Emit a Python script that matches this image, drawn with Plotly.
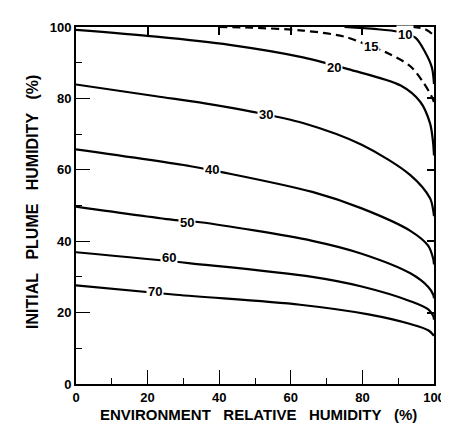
import plotly.graph_objects as go

# ---- data ----
labels = ["10", "15", "20", "30", "40", "50", "60", "70"]

x10 = [75, 84, 90, 91.5, 94.8, 97.5, 99.4, 100]
y10 = [100, 99.4, 98.7, 98.2, 97, 93, 88.7, 84]

x15 = [40, 49, 63.4, 75, 82.5, 87, 93.4, 97, 99.2, 100]
y15 = [100, 99.8, 99, 97.3, 94.5, 92.7, 89, 84.5, 80.8, 79]

x20 = [0, 22.4, 42.9, 63.4, 76, 90.7, 96.2, 98.9, 99.7, 100]
y20 = [99.2, 97.3, 95, 91.5, 88.2, 83.6, 79, 73, 68, 64]

x30 = [0, 22.4, 36, 49, 63.4, 79.8, 93.4, 98.9, 99.8, 100]
y30 = [83.9, 80.6, 78.6, 76.3, 73.1, 67, 58.5, 52, 48.5, 47]

x40 = [0, 32, 41, 66, 79.8, 93.4, 98.4, 99.8, 100]
y40 = [65.7, 61, 59.3, 53.8, 49.2, 42.9, 38.7, 35, 33.5]

x50 = [0, 27.9, 34.7, 66, 79.8, 93.4, 98.4, 99.8, 100]
y50 = [49.7, 45.9, 45.3, 40.1, 36.5, 31, 27.2, 25, 24]

x60 = [0, 32, 66, 79.8, 93.4, 98.4, 99.8, 100]
y60 = [36.9, 33.8, 30, 27.3, 23.2, 20.9, 19, 18]

x70 = [0, 27.9, 62.6, 81.7, 93.4, 98.5, 100]
y70 = [27.6, 25, 22.2, 19.5, 16.8, 15, 13.5]

x5 = [94, 97.5, 99.5, 100]
y5 = [100, 99.4, 98, 97]

label_x = [91.8, 82.5, 72, 53, 38, 31, 26, 22]
label_y = [97.8, 94.5, 88.7, 75.4, 60, 45.3, 35.4, 25.8]

x_ticks = [0, 20, 40, 60, 80, 100]
y_ticks = [0, 20, 40, 60, 80, 100]
mirror_ticks = [20, 40, 60, 80]

# (x, y, dash, axes) -- the last curve is drawn on the mirrored top/right axes
curves = [
    (x10, y10, "solid", ("x", "y")), (x15, y15, "dash", ("x", "y")),
    (x20, y20, "solid", ("x", "y")), (x30, y30, "solid", ("x", "y")),
    (x40, y40, "solid", ("x", "y")), (x50, y50, "solid", ("x", "y")),
    (x60, y60, "solid", ("x", "y")), (x70, y70, "solid", ("x", "y")),
    (x5, y5, "dash", ("x2", "y2")),
]

fig = go.Figure()
for xs, ys, dash, (xa, ya) in curves:
    fig.add_trace(go.Scatter(
        x=xs, y=ys, mode="lines", xaxis=xa, yaxis=ya,
        line=dict(color="black", width=2.2, shape="spline", smoothing=0.9,
                  dash="8px,5px" if dash == "dash" else "solid"),
        showlegend=False, hoverinfo="skip", cliponaxis=True,
    ))

for t, lx, ly in zip(labels, label_x, label_y):
    fig.add_annotation(x=lx, y=ly, text="<b>%s</b>" % t, showarrow=False,
                       font=dict(family="Liberation Sans", size=13, color="black"),
                       bgcolor="white", borderpad=1)

tickfont = dict(family="Liberation Sans", size=13, color="black", weight="bold")

fig.update_layout(
    xaxis=dict(range=[0, 100], tickvals=x_ticks, ticktext=[str(v) for v in x_ticks],
               ticks="inside", ticklen=14, tickwidth=1.3, tickcolor="black",
               showline=True, linewidth=2, linecolor="black", mirror=True,
               showgrid=False, zeroline=False, tickfont=tickfont,
               minor=dict(dtick=10, tick0=0, ticks="inside", ticklen=6,
                          tickwidth=1.3, tickcolor="black", showgrid=False)),
    yaxis=dict(range=[0, 100], tickvals=y_ticks, ticktext=[str(v) for v in y_ticks],
               ticks="inside", ticklen=14, tickwidth=1.3, tickcolor="black",
               showline=True, linewidth=2, linecolor="black", mirror=True,
               showgrid=False, zeroline=False, tickfont=tickfont,
               minor=dict(dtick=10, tick0=0, ticks="inside", ticklen=6,
                          tickwidth=1.3, tickcolor="black", showgrid=False)),
    xaxis2=dict(range=[0, 100], overlaying="x", side="top", anchor="y",
                tickmode="array", tickvals=mirror_ticks, ticktext=["", "", "", ""],
                ticks="inside", ticklen=8, tickwidth=1.5,
                tickcolor="black", showticklabels=True, showgrid=False,
                zeroline=False, showline=False),
    yaxis2=dict(range=[0, 100], overlaying="y", side="right", anchor="x",
                tickmode="array", tickvals=mirror_ticks, ticktext=["", "", "", ""],
                ticks="inside", ticklen=7, tickwidth=1.5,
                tickcolor="black", showticklabels=True, showgrid=False,
                zeroline=False, showline=False),
)

fig.add_annotation(xref="paper", yref="paper", x=0.51, y=0, yanchor="middle", yshift=-30,
                   text="<b>ENVIRONMENT&nbsp;&nbsp;&nbsp;RELATIVE&nbsp;&nbsp;&nbsp;HUMIDITY&nbsp;&nbsp;&nbsp;(%)</b>",
                   showarrow=False, font=dict(family="Liberation Sans", size=15, color="black"))
fig.add_annotation(xref="paper", yref="paper", x=0, y=0.51, xanchor="center", xshift=-43,
                   textangle=-90,
                   text="<b>INITIAL&nbsp;&nbsp;&nbsp;PLUME&nbsp;&nbsp;&nbsp;HUMIDITY&nbsp;&nbsp;&nbsp;(%)</b>",
                   showarrow=False, font=dict(family="Liberation Sans", size=16, color="black"))

fig.update_layout(width=449, height=424, margin=dict(l=68, r=15, t=12, b=48),
                  paper_bgcolor="white", plot_bgcolor="white")

fig.write_html("out.html")
